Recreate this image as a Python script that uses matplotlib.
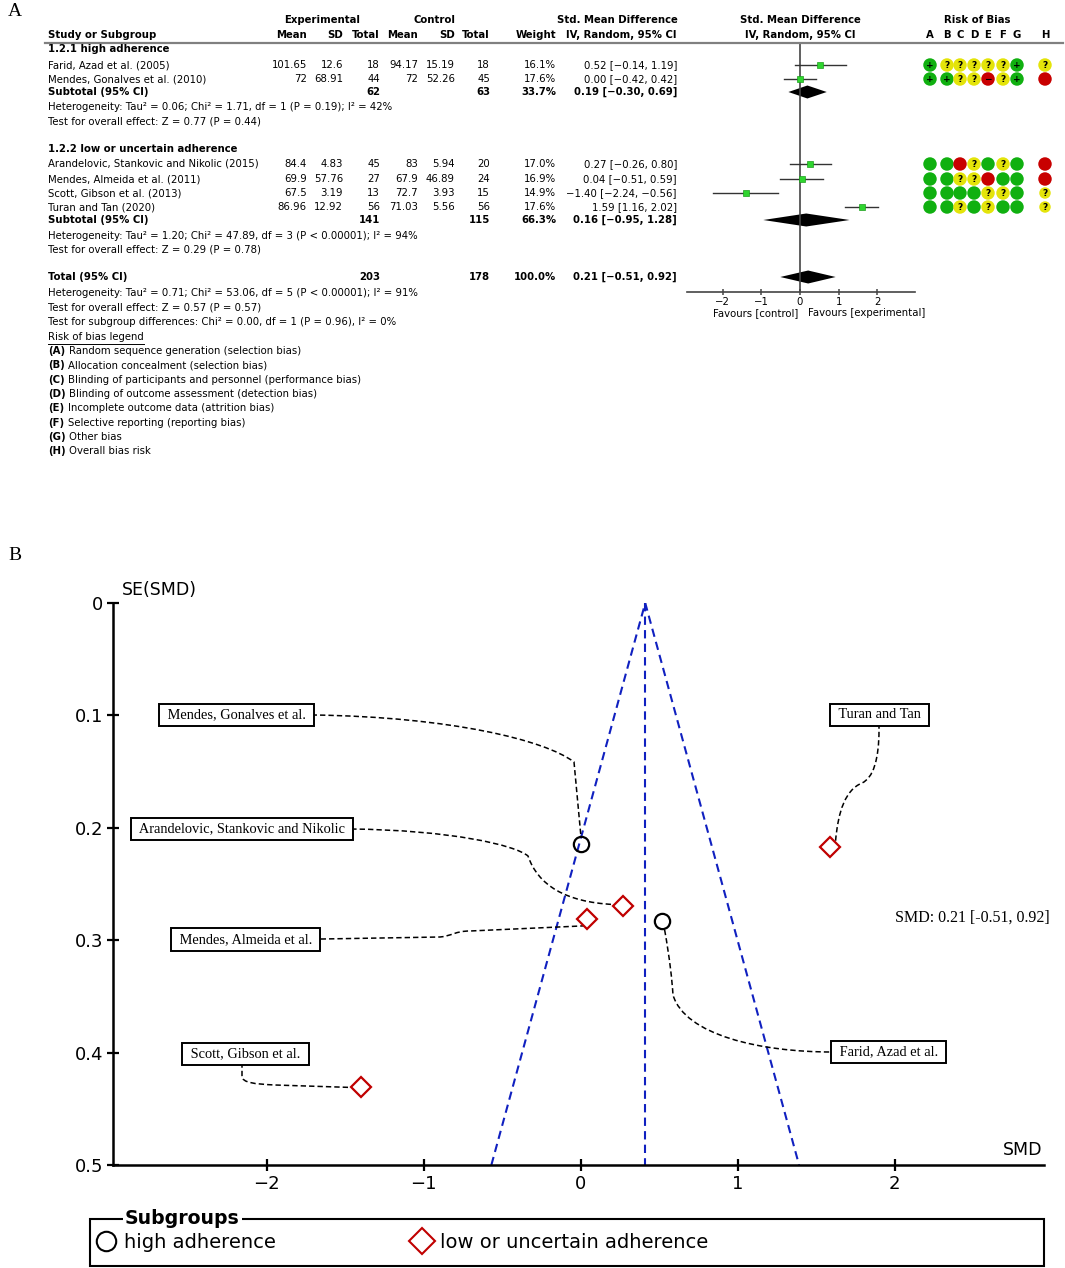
import matplotlib
matplotlib.use("Agg")
import matplotlib.pyplot as plt
from matplotlib.lines import Line2D
from matplotlib.patches import Rectangle, PathPatch
from matplotlib.path import Path

W, H = 1065, 1268

# ---------------- data ----------------
studies = ["Farid, Azad et al. (2005)", "Mendes, Gonalves et al. (2010)",
           "Arandelovic, Stankovic and Nikolic (2015)", "Mendes, Almeida et al. (2011)",
           "Scott, Gibson et al. (2013)", "Turan and Tan (2020)"]
short_names = ["Farid, Azad et al.", "Mendes, Gonalves et al.",
               "Arandelovic, Stankovic and Nikolic", "Mendes, Almeida et al.",
               "Scott, Gibson et al.", "Turan and Tan"]
subgroup = [0, 0, 1, 1, 1, 1]
subgroup_titles = ["1.2.1 high adherence", "1.2.2 low or uncertain adherence"]
subgroup_legend = ["high adherence", "low or uncertain adherence"]

exp_mean = [101.65, 72, 84.4, 69.9, 67.5, 86.96]
exp_sd = [12.6, 68.91, 4.83, 57.76, 3.19, 12.92]
exp_n = [18, 44, 45, 27, 13, 56]
ctl_mean = [94.17, 72, 83, 67.9, 72.7, 71.03]
ctl_sd = [15.19, 52.26, 5.94, 46.89, 3.93, 5.56]
ctl_n = [18, 45, 20, 24, 15, 56]
weight = [16.1, 17.6, 17.0, 16.9, 14.9, 17.6]
smd = [0.52, 0.00, 0.27, 0.04, -1.40, 1.59]
ci_lo = [-0.14, -0.42, -0.26, -0.51, -2.24, 1.16]
ci_hi = [1.19, 0.42, 0.80, 0.59, -0.56, 2.02]

sub_exp_n = [62, 141]
sub_ctl_n = [63, 115]
sub_weight = [33.7, 66.3]
sub_smd = [0.19, 0.16]
sub_lo = [-0.30, -0.95]
sub_hi = [0.69, 1.28]
sub_het = ["Heterogeneity: Tau\u00b2 = 0.06; Chi\u00b2 = 1.71, df = 1 (P = 0.19); I\u00b2 = 42%",
           "Heterogeneity: Tau\u00b2 = 1.20; Chi\u00b2 = 47.89, df = 3 (P < 0.00001); I\u00b2 = 94%"]
sub_test = ["Test for overall effect: Z = 0.77 (P = 0.44)",
            "Test for overall effect: Z = 0.29 (P = 0.78)"]

tot_exp_n, tot_ctl_n, tot_weight = 203, 178, 100.0
tot_smd, tot_lo, tot_hi = 0.21, -0.51, 0.92
tot_het = "Heterogeneity: Tau\u00b2 = 0.71; Chi\u00b2 = 53.06, df = 5 (P < 0.00001); I\u00b2 = 91%"
tot_test = "Test for overall effect: Z = 0.57 (P = 0.57)"
sg_test = "Test for subgroup differences: Chi\u00b2 = 0.00, df = 1 (P = 0.96), I\u00b2 = 0%"

rob_letters = ["A", "B", "C", "D", "E", "F", "G", "H"]
rob_desc = ["Random sequence generation (selection bias)",
            "Allocation concealment (selection bias)",
            "Blinding of participants and personnel (performance bias)",
            "Blinding of outcome assessment (detection bias)",
            "Incomplete outcome data (attrition bias)",
            "Selective reporting (reporting bias)",
            "Other bias",
            "Overall bias risk"]
rob = [["+", "?", "?", "?", "?", "?", "+", "?"],
       ["+", "+", "?", "?", "-", "?", "+", "-"],
       ["+", "+", "-", "?", "+", "?", "+", "-"],
       ["+", "+", "?", "?", "-", "+", "+", "-"],
       ["+", "+", "+", "+", "?", "?", "+", "?"],
       ["+", "+", "?", "+", "?", "+", "+", "?"]]
rob_show_sign = [True, True, False, False, False, False]

se_funnel = [0.283, 0.214, 0.270, 0.281, 0.431, 0.217]
funnel_center = 0.41

# ---------------- layout ----------------
FS = 7.3
SANS = "DejaVu Sans"
SERIF = "Liberation Serif"
y_group = [49, 149]
y_study = [65, 79, 164, 179, 193, 207]
y_sub = [92, 220]
y_het = [107, 236]
y_test = [121, 250]
y_total, y_tot_het, y_tot_test, y_sg, y_rob_title, y_rob0, rob_step = 277, 293, 307, 322, 337, 351, 14.3
col = dict(em=307, esd=343, en=380, cm=418, csd=455, cn=490, w=556, ci=677)
rob_x = [930, 947, 960, 974, 988, 1003, 1017, 1045]
rob_col = {"+": "#10b010", "?": "#e4e40a", "-": "#c80000"}

fig = plt.figure(figsize=(W / 100, H / 100), dpi=100)
fig.patch.set_facecolor("white")

axT = fig.add_axes([0, 0, 1, 1], zorder=10)
axT.set_xlim(0, W)
axT.set_ylim(H, 0)
axT.axis("off")
axT.patch.set_alpha(0)


def T(x, y, s, ha="left", bold=False, size=FS, **kw):
    return axT.text(x, y, s, ha=ha, va="center", fontsize=size, family=SANS,
                    fontweight="bold" if bold else "normal", **kw)


def fmt_ci(m, lo, hi):
    return f"{m:.2f} [{lo:.2f}, {hi:.2f}]".replace("-", "\u2212")


# panel labels
axT.text(8, 12, "A", fontsize=14, family=SERIF, va="center")
axT.text(8, 555, "B", fontsize=14, family=SERIF, va="center")

# headers
T(322, 20, "Experimental", ha="center", bold=True)
T(435, 20, "Control", ha="center", bold=True)
T(617, 20, "Std. Mean Difference", ha="center", bold=True)
T(800, 20, "Std. Mean Difference", ha="center", bold=True)
T(977, 20, "Risk of Bias", ha="center", bold=True)
T(48, 35, "Study or Subgroup", bold=True)
for key, lab in [("em", "Mean"), ("esd", "SD"), ("en", "Total"), ("cm", "Mean"),
                 ("csd", "SD"), ("cn", "Total"), ("w", "Weight"), ("ci", "IV, Random, 95% CI")]:
    T(col[key], 35, lab, ha="right", bold=True)
T(800, 35, "IV, Random, 95% CI", ha="center", bold=True)
for x, l in zip(rob_x, rob_letters):
    T(x, 35, l, ha="center", bold=True)
axT.plot([45, 1063], [42.5, 42.5], color="#808080", lw=1.6)

# table body
for g in range(2):
    T(48, y_group[g], subgroup_titles[g], bold=True)
    T(48, y_sub[g], "Subtotal (95% CI)", bold=True)
    T(col["en"], y_sub[g], f"{sub_exp_n[g]}", ha="right", bold=True)
    T(col["cn"], y_sub[g], f"{sub_ctl_n[g]}", ha="right", bold=True)
    T(col["w"], y_sub[g], f"{sub_weight[g]:.1f}%", ha="right", bold=True)
    T(col["ci"], y_sub[g], fmt_ci(sub_smd[g], sub_lo[g], sub_hi[g]), ha="right", bold=True)
    T(48, y_het[g], sub_het[g])
    T(48, y_test[g], sub_test[g])

for i in range(len(studies)):
    y = y_study[i]
    T(48, y, studies[i])
    T(col["em"], y, f"{exp_mean[i]:g}", ha="right")
    T(col["esd"], y, f"{exp_sd[i]:g}", ha="right")
    T(col["en"], y, f"{exp_n[i]}", ha="right")
    T(col["cm"], y, f"{ctl_mean[i]:g}", ha="right")
    T(col["csd"], y, f"{ctl_sd[i]:g}", ha="right")
    T(col["cn"], y, f"{ctl_n[i]}", ha="right")
    T(col["w"], y, f"{weight[i]:.1f}%", ha="right")
    T(col["ci"], y, fmt_ci(smd[i], ci_lo[i], ci_hi[i]), ha="right")
    # risk of bias dots
    for j, r in enumerate(rob[i]):
        small = (j == 7 and r == "?" and i >= 4)
        axT.scatter([rob_x[j]], [y], s=68 if small else 94, color=rob_col[r], edgecolors="none", zorder=3)
        if r == "?":
            T(rob_x[j], y + 0.3, "?", ha="center", bold=True, size=6.5, zorder=4)
        elif rob_show_sign[i] and j < 7:
            T(rob_x[j], y, "+" if r == "+" else "\u2212", ha="center", bold=True, size=6.5, zorder=4)

T(48, y_total, "Total (95% CI)", bold=True)
T(col["en"], y_total, f"{tot_exp_n}", ha="right", bold=True)
T(col["cn"], y_total, f"{tot_ctl_n}", ha="right", bold=True)
T(col["w"], y_total, f"{tot_weight:.1f}%", ha="right", bold=True)
T(col["ci"], y_total, fmt_ci(tot_smd, tot_lo, tot_hi), ha="right", bold=True)
T(48, y_tot_het, tot_het)
T(48, y_tot_test, tot_test)
T(48, y_sg, sg_test)
rt = T(48, y_rob_title, "Risk of bias legend")
fig.canvas.draw()
bb = rt.get_window_extent().transformed(axT.transData.inverted())
axT.plot([bb.x0, bb.x1], [y_rob_title + 6.5, y_rob_title + 6.5], color="black", lw=0.7)
for k, (l, d) in enumerate(zip(rob_letters, rob_desc)):
    yy = y_rob0 + k * rob_step
    bt = T(48, yy, f"({l})", bold=True)
    axT.annotate(d, xy=(1, 0.5), xycoords=bt, xytext=(2.5, 0), textcoords="offset points",
                 va="center", ha="left", fontsize=FS, family=SANS)

# forest plot
axF = fig.add_axes([687 / W, 1 - 292 / H, (915 - 687) / W, (292 - 42.5) / H])
axF.set_xlim(-2.92, 2.97)
axF.set_ylim(292, 42.5)
axF.patch.set_alpha(0)
for s in ["top", "right", "left"]:
    axF.spines[s].set_visible(False)
axF.spines["bottom"].set_color("#444444")
axF.spines["bottom"].set_linewidth(1.2)
axF.set_yticks([])
axF.set_xticks([-2, -1, 0, 1, 2])
axF.tick_params(axis="x", direction="inout", length=5, width=1.2, color="#555555",
                labelsize=FS, pad=1)
axF.axvline(0, color="#444444", lw=1.2)
for i in range(len(studies)):
    axF.plot([ci_lo[i], ci_hi[i]], [y_study[i], y_study[i]], color="#333333", lw=1.0)
    axF.plot([smd[i]], [y_study[i]], marker="s", ms=3.8, color="#2fd52f", mec="#1c9e1c", mew=0.5)


def diamond(ax, m, lo, hi, y, h=6.5):
    ax.fill([lo, m, hi, m], [y, y - h, y, y + h], color="black", lw=0)


for g in range(2):
    diamond(axF, sub_smd[g], sub_lo[g], sub_hi[g], y_sub[g])
diamond(axF, tot_smd, tot_lo, tot_hi, y_total)
T(798, 313, "Favours [control]", ha="right")
T(808, 313, "Favours [experimental]", ha="left")

# ---------------- panel B: funnel plot ----------------
axB = fig.add_axes([113 / W, 1 - 1165 / H, 931 / W, 562 / H])
axB.set_xlim(-2.98, 2.95)
axB.set_ylim(0.5, 0)
axB.patch.set_alpha(0)
for s in ["top", "right"]:
    axB.spines[s].set_visible(False)
for s in ["left", "bottom"]:
    axB.spines[s].set_linewidth(1.8)
axB.set_xticks([-2, -1, 0, 1, 2])
axB.set_yticks([0, 0.1, 0.2, 0.3, 0.4, 0.5])
axB.set_yticklabels(["0", "0.1", "0.2", "0.3", "0.4", "0.5"])
axB.tick_params(direction="inout", length=8, width=1.6, labelsize=13, pad=3)

se_max = 0.5
fl = funnel_center - 1.96 * se_max
fr = funnel_center + 1.96 * se_max
blue = "#1020c0"
axB.plot([fl, funnel_center, fr], [se_max, 0, se_max], ls=(0, (4, 2.5)), color=blue, lw=1.5, zorder=2)
axB.plot([funnel_center, funnel_center], [0, se_max], ls=(0, (4, 2.5)), color=blue, lw=1.5, zorder=2)

marker_of = ["o", "D"]
color_of = ["black", "#c00000"]
ms_of = [11, 10]
for i in range(len(studies)):
    g = subgroup[i]
    axB.plot([smd[i]], [se_funnel[i]], marker=marker_of[g], ms=ms_of[g], mfc="none",
             mec=color_of[g], mew=1.6, ls="none", zorder=4)


def px_of(i):
    p = axB.transData.transform((smd[i], se_funnel[i]))
    return axT.transData.inverted().transform(p)


M, L, C = Path.MOVETO, Path.LINETO, Path.CURVE4
# label boxes: (study idx, centre px, connector verts, codes, end offset)
labels = [
    (1, (236.5, 715), [(236, 715), (314, 715), (450, 717), (545, 740), (574, 762)],
     [M, L, C, C, C, L], (0, -8)),
    (2, (242, 829), [(242, 829), (350, 829), (450, 830), (515, 845), (528, 856), (538, 885), (565, 902)],
     [M, L, C, C, C, C, C, C], (-10, -2)),
    (5, (879.5, 715), [(879, 715), (879, 730), (879, 760), (873, 778), (862, 783), (845, 790), (838, 812)],
     [M, L, C, C, C, C, C, C], (5, -5)),
    (3, (245.5, 939.5), [(245, 939), (322, 939), (440, 937), (452, 936), (455, 931), (470, 931)],
     [M, L, L, C, C, C, L], (-3, 7)),
    (4, (245.5, 1054), [(242, 1054), (242, 1076), (242, 1083), (255, 1084), (275, 1085)],
     [M, L, C, C, C, L], (-10, 0)),
    (0, (888.5, 1052), [(888, 1052), (832, 1052), (760, 1052), (685, 1035), (673, 995), (672, 980), (670, 960)],
     [M, L, C, C, C, C, C, C], (2, 8)),
]
for idx, ctr, verts, codes, off in labels:
    cx, cy = px_of(idx)
    v = list(verts) + [(cx + off[0], cy + off[1])]
    pp = PathPatch(Path(v, codes), fill=False, ls=(0, (3.5, 2)), lw=1.1, ec="black",
                   transform=axT.transData, clip_on=False, zorder=3)
    axB.add_patch(pp)
    axT.text(ctr[0], ctr[1], " " + short_names[idx] + " ", ha="center", va="center",
             fontsize=10.4, family=SERIF,
             bbox=dict(boxstyle="square,pad=0.33", fc="white", ec="black", lw=1.4))

axT.text(1050, 918, f"SMD: {tot_smd:.2f} [{tot_lo:.2f}, {tot_hi:.2f}]", ha="right", va="center",
         fontsize=11.5, family=SERIF)
axT.text(122, 590, "SE(SMD)", ha="left", va="center", fontsize=12.5, family=SANS)
axT.text(1042, 1150, "SMD", ha="right", va="center", fontsize=12.5, family=SANS)

# legend
axT.add_patch(Rectangle((90, 1219), 954, 47, fill=False, ec="black", lw=1.5))
axT.text(125, 1218, "Subgroups", ha="left", va="center", fontsize=13.6, fontweight="bold", family=SANS,
         bbox=dict(boxstyle="square,pad=0.12", fc="white", ec="none"))
handles = [Line2D([], [], marker="o", ls="none", mec="black", mfc="none", ms=14, mew=1.5),
           Line2D([], [], marker="D", ls="none", mec="#c00000", mfc="none", ms=13, mew=1.5)]
fig.legend(handles, subgroup_legend, loc="center left", bbox_to_anchor=(96 / W, 1 - 1242 / H),
           ncol=2, frameon=False, fontsize=14, handlelength=1.0, handletextpad=0.45,
           columnspacing=7.0, borderpad=0, borderaxespad=0)

fig.savefig("out.png", dpi=100, facecolor="white")
